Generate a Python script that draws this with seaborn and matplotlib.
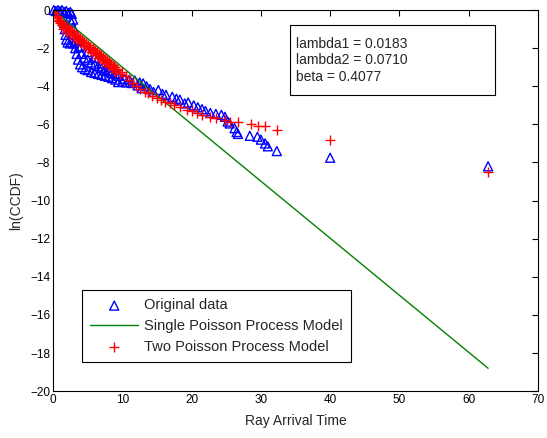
import matplotlib
matplotlib.use('Agg')
import matplotlib.pyplot as plt
from matplotlib.patches import Rectangle
import seaborn as sns
import pandas as pd

# Original data (ray arrival time, ln(CCDF))
orig_t = [0.1, 0.4, 0.7, 1.0, 1.3, 1.6, 1.9, 2.2, 2.5, 2.7,
          1.5, 1.6, 1.7, 1.8, 1.9, 2.1, 2.4, 2.7, 3.0, 2.8, 2.9, 2.6, 2.9,
          3.2, 3.4, 3.6, 3.9, 4.2, 4.6, 5.0, 5.5, 6.0, 6.5, 7.0, 7.5, 8.0, 8.5,
          9.0, 9.4, 10.0, 10.6, 11.4, 12.2, 12.8,
          3.3, 3.7, 4.1, 4.5, 5.0, 5.5, 6.0, 6.5, 7.0, 7.5, 8.0, 8.5, 9.0, 9.5,
          4.0, 5.0, 6.0, 7.0, 8.0,
          10.3, 11.0, 11.8, 12.5, 13.0, 13.5, 14.0, 14.5, 15.2, 15.8, 16.3,
          17.2, 17.8, 18.3, 19.0, 19.5, 20.3, 20.9, 21.5, 22.0, 22.7, 23.5,
          24.3, 24.8, 25.2, 25.5, 26.2, 26.5, 26.7, 28.4, 29.5, 30.0, 30.6,
          31.0, 32.3, 40.0, 62.8]
orig_y = [0.0, -0.05, 0.0, -0.05, 0.0, -0.1, -0.05, -0.15, -0.1, -0.2,
          -0.4, -0.7, -1.0, -1.3, -1.55, -1.7, -1.75, -1.7, -1.75, -1.3, -0.9, -0.6, -0.5,
          -2.0, -2.3, -2.6, -2.85, -3.0, -3.1, -3.15, -3.25, -3.3, -3.35, -3.4, -3.45, -3.5, -3.57,
          -3.65, -3.78, -3.75, -3.8, -3.83, -3.95, -4.1,
          -1.6, -1.95, -2.3, -2.5, -2.6, -2.75, -2.85, -2.95, -3.05, -3.15, -3.2, -3.3, -3.35, -3.45,
          -1.9, -2.2, -2.5, -2.8, -3.0,
          -3.6, -3.65, -3.7, -3.8, -3.85, -4.0, -4.15, -4.3, -4.2, -4.4, -4.45,
          -4.55, -4.65, -4.7, -4.9, -4.85, -5.0, -5.1, -5.2, -5.3, -5.4, -5.45,
          -5.5, -5.6, -5.85, -5.95, -6.2, -6.4, -6.5, -6.6, -6.65, -6.8, -7.0,
          -7.15, -7.4, -7.75, -8.2]

# Single Poisson process model
single_t = [0.0, 62.8]
single_y = [0.0, -18.8]

# Two Poisson process model
two_t = [0.0, 0.3, 0.6, 0.9, 1.2, 1.5, 1.8, 2.1, 2.4, 2.7, 3.0, 3.3, 3.6, 3.9, 4.2,
         4.5, 4.8, 5.1, 5.4, 5.7, 6.0, 6.3, 6.6, 6.9, 7.2, 7.5, 7.8, 8.1, 8.4, 8.7,
         9.0, 9.3,
         0.5, 1.0, 1.5, 2.0, 2.5, 3.0, 3.5, 4.0, 4.5, 5.0, 5.5, 6.0, 6.5, 7.0, 7.5,
         8.0, 8.5, 9.0, 9.6,
         0.75, 1.25, 1.75, 2.25, 2.75, 3.25, 3.75, 4.25, 4.75, 5.25, 5.75, 6.25,
         6.75, 7.25, 7.75, 8.25, 8.75, 9.25,
         10.0, 10.5, 11.0, 11.5, 12.0, 12.6, 13.2, 13.7, 14.3, 15.0, 15.6, 16.2,
         16.9, 17.5, 18.3, 19.3, 20.0, 20.8, 21.5, 22.6, 23.5, 24.8, 25.6, 26.7,
         28.6, 29.6, 30.6, 32.3, 40.0, 62.8]
two_y = [0.0, -0.15, -0.33, -0.5, -0.64, -0.76, -0.86, -0.95, -1.04, -1.12, -1.2,
         -1.29, -1.38, -1.47, -1.56, -1.65, -1.74, -1.83, -1.92, -2.01, -2.1, -2.19,
         -2.28, -2.37, -2.46, -2.55, -2.64, -2.73, -2.82, -2.9, -2.99, -3.08,
         -0.4, -0.7, -0.98, -1.15, -1.3, -1.45, -1.6, -1.75, -1.9, -2.05, -2.2,
         -2.35, -2.5, -2.65, -2.8, -2.95, -3.1, -3.25, -3.38,
         -0.55, -0.78, -0.95, -1.08, -1.22, -1.38, -1.52, -1.67, -1.82, -1.97, -2.12,
         -2.27, -2.42, -2.57, -2.72, -2.87, -3.0, -3.15,
         -3.25, -3.45, -3.65, -3.85, -4.0, -4.15, -4.3, -4.35, -4.5, -4.6, -4.7, -4.8,
         -4.9, -5.0, -5.1, -5.25, -5.3, -5.4, -5.5, -5.6, -5.65, -5.75, -5.85, -5.9,
         -6.0, -6.1, -6.1, -6.3, -6.8, -8.5]

params_text = 'lambda1 = 0.0183\nlambda2 = 0.0710\nbeta = 0.4077'

sns.set_style('white')
plt.rcParams['font.family'] = ['Liberation Sans', 'DejaVu Sans']

fig = plt.figure(figsize=(5.47, 4.38), dpi=100)
ax = fig.add_axes([0.097, 0.107, 0.8865, 0.870])

orig_df = pd.DataFrame({'t': orig_t, 'y': orig_y})
single_df = pd.DataFrame({'t': single_t, 'y': single_y})
two_df = pd.DataFrame({'t': two_t, 'y': two_y})

sns.scatterplot(data=orig_df, x='t', y='y', marker='^', s=42, facecolor='none',
                edgecolor='blue', linewidth=1.0, label='Original data', ax=ax,
                clip_on=False, zorder=2)
sns.lineplot(data=single_df, x='t', y='y', color='green', linewidth=1.0,
             label='Single Poisson Process Model', ax=ax, zorder=3)
sns.scatterplot(data=two_df, x='t', y='y', marker='+', s=50, color='red',
                linewidth=1.0, label='Two Poisson Process Model', ax=ax, zorder=4)

ax.set_xlim(0, 70)
ax.set_ylim(-20, 0)
ax.set_xticks(range(0, 71, 10))
ax.set_yticks(range(-20, 1, 2))
ax.tick_params(direction='in', top=True, right=True, length=4, width=0.8,
               labelsize=8.5, colors='black', pad=2)
for s in ax.spines.values():
    s.set_color('black')
    s.set_linewidth(0.8)
    s.set_zorder(5)
ax.set_xlabel('Ray Arrival Time', fontsize=10, labelpad=6)
ax.set_ylabel('ln(CCDF)', fontsize=10, labelpad=5)

# parameter box
ax.add_patch(Rectangle((0.489, 0.777), 0.422, 0.183, transform=ax.transAxes,
                       facecolor='white', edgecolor='black', linewidth=0.8, zorder=6))
ax.text(0.501, 0.929, params_text, transform=ax.transAxes, fontsize=10,
        va='top', ha='left', linespacing=1.2, zorder=7)

leg = ax.legend(loc='lower left', bbox_to_anchor=(0.06, 0.076), borderaxespad=0,
                fontsize=10.5, frameon=True, fancybox=False, edgecolor='black',
                framealpha=1, scatterpoints=1, handlelength=3.3, handletextpad=0.4,
                borderpad=0.55, labelspacing=0.47)
leg.get_frame().set_linewidth(0.8)

fig.savefig('out.png', dpi=100)
